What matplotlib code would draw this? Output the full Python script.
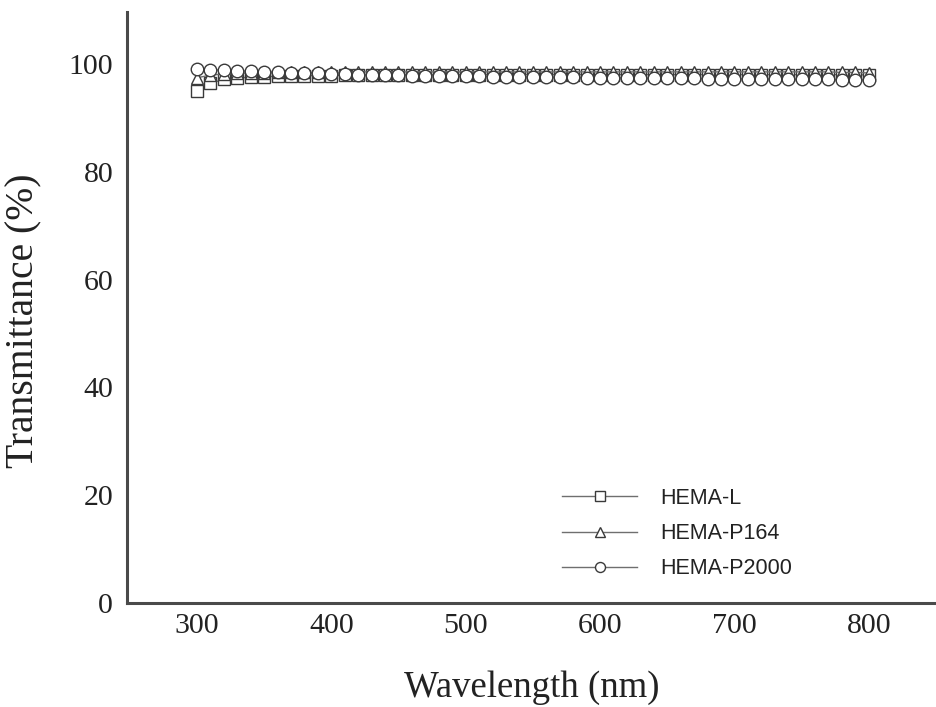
import numpy as np
import matplotlib.pyplot as plt

# wavelength grid (nm), one marker every 10 nm
wavelength = np.arange(300, 801, 10)

# transmittance (%)
hema_l = [95.0, 96.4, 97.1, 97.4, 97.5, 97.6, 97.7, 97.7, 97.8, 97.8,
          97.8, 97.9, 97.9, 97.9, 97.9, 98.0, 98.0, 98.0, 98.0, 98.0,
          98.0, 98.0, 98.0, 98.0, 98.0, 98.0, 98.0, 98.0, 98.0, 98.0,
          98.0, 98.0, 98.0, 98.0, 98.0, 98.0, 98.0, 98.0, 98.0, 98.0,
          98.0, 98.0, 98.0, 98.0, 98.0, 98.0, 98.0, 98.0, 98.0, 98.0, 97.9]
hema_p164 = [97.4, 97.9, 98.1, 98.2, 98.3, 98.3, 98.4, 98.4, 98.4, 98.4,
             98.4, 98.4, 98.5, 98.5, 98.5, 98.5, 98.5, 98.5, 98.5, 98.5,
             98.5, 98.5, 98.5, 98.5, 98.5, 98.5, 98.5, 98.5, 98.5, 98.5,
             98.5, 98.5, 98.5, 98.5, 98.5, 98.5, 98.5, 98.5, 98.5, 98.5,
             98.5, 98.5, 98.5, 98.5, 98.5, 98.5, 98.5, 98.5, 98.4, 98.4, 98.3]
hema_p2000 = [99.1, 98.9, 98.8, 98.7, 98.6, 98.5, 98.4, 98.3, 98.3, 98.2,
              98.1, 98.1, 98.0, 98.0, 97.9, 97.9, 97.8, 97.8, 97.8, 97.7,
              97.7, 97.7, 97.6, 97.6, 97.6, 97.5, 97.5, 97.5, 97.5, 97.4,
              97.4, 97.4, 97.4, 97.3, 97.3, 97.3, 97.3, 97.3, 97.2, 97.2,
              97.2, 97.2, 97.2, 97.1, 97.1, 97.1, 97.1, 97.1, 97.0, 97.0, 97.0]

series = [("HEMA-L", hema_l, "s"),
          ("HEMA-P164", hema_p164, "^"),
          ("HEMA-P2000", hema_p2000, "o")]

fig = plt.figure(figsize=(9.36, 7.07), dpi=100)
ax = fig.add_axes([0.1357, 0.147, 0.8643, 0.836])

for name, vals, mk in series:
    ax.plot(wavelength, vals, color="#6f6f6f", lw=1.0, marker=mk, ms=9,
            mfc="white", mec="#3a3a3a", mew=1.0, label=name)

ax.set_xlim(248, 850)
ax.set_ylim(0, 109.6)
ax.set_xticks([300, 400, 500, 600, 700, 800])
ax.set_yticks([0, 20, 40, 60, 80, 100])

for s in ["top", "right"]:
    ax.spines[s].set_visible(False)
for s in ["left", "bottom"]:
    ax.spines[s].set_color("#4a4a4a")
    ax.spines[s].set_linewidth(2.2)

ax.tick_params(length=0, labelsize=21.5)
ax.tick_params(axis="x", pad=7)
ax.tick_params(axis="y", pad=10)
for lb in ax.get_xticklabels() + ax.get_yticklabels():
    lb.set_fontfamily("Liberation Serif")
    lb.set_color("#222222")

ax.set_xlabel("Wavelength (nm)", fontfamily="Liberation Serif", fontsize=26.5,
              color="#222222", labelpad=23)
ax.set_ylabel("Transmittance (%)", fontfamily="Liberation Serif", fontsize=28.5,
              color="#222222")
ax.yaxis.set_label_coords(-0.105, 0.477)

leg = ax.legend(loc="upper left", bbox_to_anchor=(562 / 936, 1 - 488 / 707),
                bbox_transform=fig.transFigure, frameon=False,
                borderpad=0, borderaxespad=0,
                prop={"family": "Liberation Sans", "size": 15.5},
                handlelength=3.5, handletextpad=1.05, labelspacing=0.66,
                markerscale=0.8)
for t in leg.get_texts():
    t.set_color("#222222")

fig.savefig("out.png", dpi=100)
